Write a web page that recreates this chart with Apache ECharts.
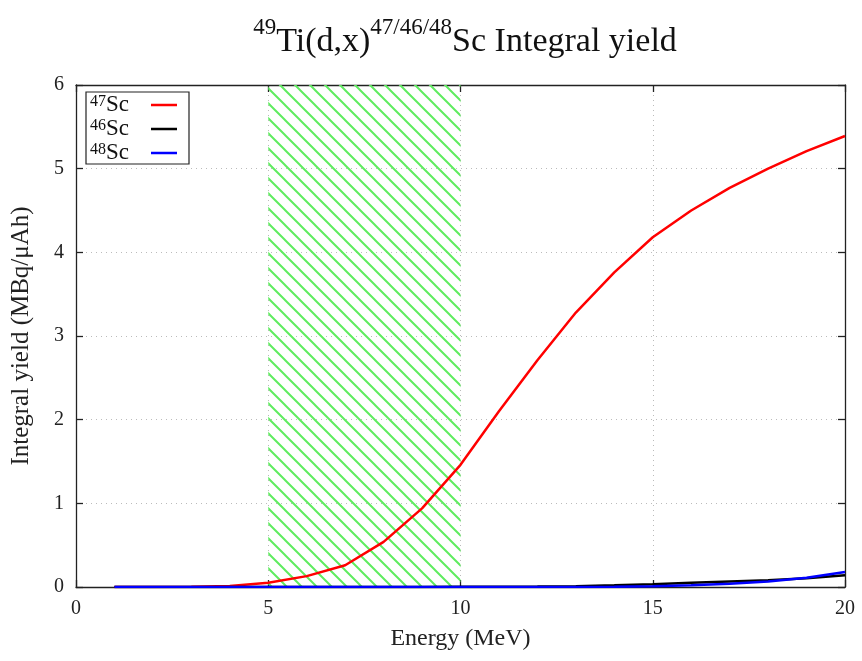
<!DOCTYPE html>
<html><head><meta charset="utf-8">
<script src="https://cdn.jsdelivr.net/npm/echarts@6/dist/echarts.min.js"></script>
<style>html,body{margin:0;padding:0;background:#fff}#c{width:862px;height:661px}</style>
</head><body><div id="c"></div>
<script>
const energies = [1,2,3,4,5,6,7,8,9,10,11,12,13,14,15,16,17,18,19,20];
const sc47 = [0,0,0.003,0.012,0.05,0.13,0.26,0.54,0.94,1.46,2.1,2.71,3.28,3.76,4.18,4.5,4.77,5.0,5.21,5.39];
const sc46 = [0,0,0,0,0,0,0,0.001,0.001,0.002,0.003,0.005,0.01,0.02,0.034,0.05,0.065,0.08,0.105,0.14];
const sc48 = [0,0,0,0,0,0,0,0,0,0,0,0,0.001,0.003,0.008,0.02,0.04,0.065,0.11,0.18];
const hatchRange = [5,10];
const xTicks = [0,5,10,15,20];
const yTicks = [0,1,2,3,4,5,6];

const pc = document.createElement('canvas');
pc.width = 15; pc.height = 15;
const g = pc.getContext('2d');
g.strokeStyle = '#5fec5f'; g.lineWidth = 2.0;
g.beginPath();
g.moveTo(-2,-2); g.lineTo(17,17);
g.moveTo(-2,13); g.lineTo(2,17);
g.moveTo(13,-2); g.lineTo(17,2);
g.stroke();

const pairs = a => energies.map((e,i)=>[e,a[i]]);
const font = 'Liberation Serif';
const chart = echarts.init(document.getElementById('c'));
const supMap = {'47Sc':'47','46Sc':'46','48Sc':'48'};
const axisCol = '#222';
chart.setOption({
  animation:false,
  title:{
    text:'{sup|49}{n|Ti(d,x)}{sup|47/46/48}{n|Sc Integral yield}',
    left:460, textAlign:'center', top:11,
    textStyle:{rich:{
      n:{fontFamily:font,fontSize:34,fontWeight:'normal',color:'#111',lineHeight:43,verticalAlign:'bottom'},
      sup:{fontFamily:font,fontSize:23,fontWeight:'normal',color:'#111',lineHeight:43,verticalAlign:'top'}
    }}
  },
  legend:{
    orient:'vertical', left:86, top:92, align:'right',
    borderColor:'#222', borderWidth:1.2, padding:[1,12,0,4],
    itemWidth:26, itemHeight:10, itemGap:1,
    icon:'path://M0,3.75L26,3.75L26,6.25L0,6.25Z',
    formatter: n => '{s|'+supMap[n]+'}{b|Sc}',
    textStyle:{rich:{
      s:{fontFamily:font,fontSize:16,color:'#111',lineHeight:22,verticalAlign:'top'},
      b:{fontFamily:font,fontSize:23,color:'#111',lineHeight:22,verticalAlign:'bottom',padding:[0,17,0,0]}
    }},
    data:['47Sc','46Sc','48Sc']
  },
  grid:{left:76,right:17,top:85,bottom:74,containLabel:false},
  xAxis:[{
    type:'value',min:xTicks[0],max:xTicks[xTicks.length-1],interval:5,
    name:'Energy (MeV)',nameLocation:'middle',nameGap:40,
    nameTextStyle:{fontFamily:font,fontSize:24,color:axisCol},
    axisLine:{onZero:false,lineStyle:{color:axisCol,width:1.3}},
    axisTick:{inside:true,length:7,lineStyle:{color:axisCol,width:1.3}},
    axisLabel:{fontFamily:font,fontSize:20,color:axisCol,margin:12},
    splitLine:{show:true,lineStyle:{color:'#bbb',type:[1,4],width:1}}
  },{
    type:'value',position:'top',min:0,max:20,interval:5,
    axisLine:{show:true,onZero:false,lineStyle:{color:axisCol,width:1.3}},
    axisTick:{show:true,inside:true,length:7,lineStyle:{color:axisCol,width:1.3}},
    axisLabel:{show:false},splitLine:{show:false}
  }],
  yAxis:[{
    type:'value',min:yTicks[0],max:yTicks[yTicks.length-1],interval:1,
    name:'Integral yield (MBq/μAh)',nameLocation:'middle',nameGap:42,
    nameTextStyle:{fontFamily:font,fontSize:25,color:axisCol},
    axisLine:{show:true,onZero:false,lineStyle:{color:axisCol,width:1.3}},
    axisTick:{show:true,inside:true,length:7,lineStyle:{color:axisCol,width:1.3}},
    axisLabel:{fontFamily:font,fontSize:20,color:axisCol,margin:12},
    splitLine:{show:true,lineStyle:{color:'#bbb',type:[1,4],width:1}}
  },{
    type:'value',position:'right',min:0,max:6,interval:1,
    axisLine:{show:true,onZero:false,lineStyle:{color:axisCol,width:1.3}},
    axisTick:{show:true,inside:true,length:7,lineStyle:{color:axisCol,width:1.3}},
    axisLabel:{show:false},splitLine:{show:false}
  }],
  series:[
    {name:'47Sc',type:'line',data:pairs(sc47),symbol:'none',z:5,
     lineStyle:{color:'#ff0000',width:2.5},itemStyle:{color:'#ff0000'},
     markArea:{silent:true,z:1,itemStyle:{color:{image:pc,repeat:'repeat'}},
       data:[[{xAxis:hatchRange[0]},{xAxis:hatchRange[1]}]]}},
    {name:'46Sc',type:'line',data:pairs(sc46),symbol:'none',z:6,
     lineStyle:{color:'#000000',width:2.5},itemStyle:{color:'#000000'}},
    {name:'48Sc',type:'line',data:pairs(sc48),symbol:'none',z:7,
     lineStyle:{color:'#0000ff',width:2.5},itemStyle:{color:'#0000ff'}}
  ]
});
</script></body></html>
